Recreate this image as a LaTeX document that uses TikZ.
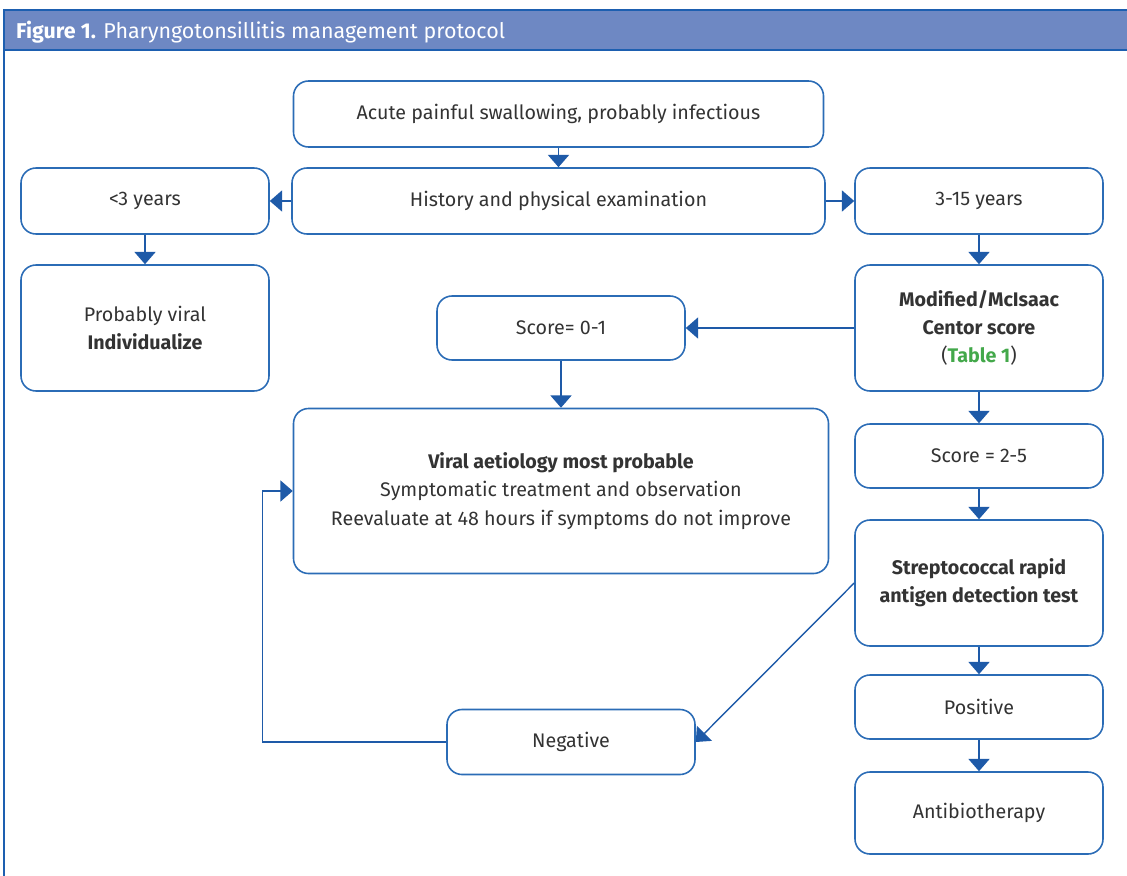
\documentclass[tikz,border=0pt]{standalone}
\usepackage{fontspec}
\setmainfont{Fira Sans}
\usetikzlibrary{positioning,arrows.meta}
\definecolor{boxblue}{HTML}{2B6CB6}
\definecolor{arrowblue}{HTML}{1E5AA8}
\definecolor{titlefill}{HTML}{6E88C3}
\definecolor{titleline}{HTML}{1D5FB0}
\definecolor{textgray}{HTML}{333333}
\definecolor{tablegreen}{HTML}{43A84A}

\begin{document}
\begin{tikzpicture}[node distance=2.54cm, on grid,
    box/.style={draw=boxblue, line width=0.9pt, rounded corners=0.3cm,
      minimum width=4.96cm, minimum height=1.32cm, align=center,
      text=textgray, font=\fontsize{11.2}{16}\selectfont},
    tall/.style={box, minimum height=2.52cm},
    flow/.style={-{Triangle[width=12pt,length=7pt]}, color=arrowblue, line width=0.8pt}]
    \useasboundingbox (0,0) rectangle (22.54,-17.52);
    % frame and title bar
    \fill[titlefill] (0.08,-0.2) rectangle (22.6,-1.0);
    \draw[titleline, line width=1pt] (22.6,-0.2) -- (0.08,-0.2) -- (0.08,-17.6);
    \draw[titleline, line width=1pt] (0.08,-1.0) -- (22.6,-1.0);
    \node[anchor=west, text=white, font=\fontsize{12.2}{15}\selectfont] (title) at (0.2,-0.64)
        {\textbf{Figure 1.} Pharyngotonsillitis management protocol};

    \node[box, minimum width=10.6cm] (acute) at (11.17,-2.28) {Acute painful swallowing, probably infectious};
    \node[box, minimum width=10.66cm, below=1.74cm of acute] (hist) {History and physical examination};
    \node[box, left=8.27cm of hist] (young) {<3 years};
    \node[box, right=8.41cm of hist] (child) {3-15 years};
    \node[tall, below=of young] (viral) {Probably viral\\\textbf{Individualize}};
    \node[tall, below=of child] (centor) {\textbf{Modified/McIsaac}\\\textbf{Centor score}\\(\textcolor{tablegreen}{\textbf{Table 1}})};
    \node[box, minimum height=1.28cm, left=8.36cm of centor] (low) {Score= 0-1};
    \node[box, minimum width=10.7cm, minimum height=3.3cm, below=3.26cm of low] (aetio)
        {\textbf{Viral aetiology most probable}\\Symptomatic treatment and observation\\Reevaluate at 48 hours if symptoms do not improve};
    \node[box, minimum height=1.28cm, below=2.56cm of centor] (high) {Score = 2-5};
    \node[tall, below=of high] (strep) {\textbf{Streptococcal rapid}\\\textbf{antigen detection test}};
    \node[box, minimum height=1.28cm, below=2.48cm of strep] (pos) {Positive};
    \node[box, minimum height=1.64cm, below=2.12cm of pos] (abx) {Antibiotherapy};
    \node[box, minimum height=1.3cm, below left=0.7cm and 8.16cm of pos] (neg) {Negative};

    \path[flow]
    (acute) edge (hist)
    (hist) edge (young)
           edge (child)
    (young) edge (viral)
    (child) edge (centor)
    (centor) edge (low)
             edge (high)
    (low) edge (aetio)
    (high) edge (strep)
    (strep) edge (pos)
    (strep.west) edge (neg.east)
    (pos) edge (abx);
    \draw[flow] (neg.west) -| ([xshift=-0.6cm]aetio.west) -- (aetio.west);
\end{tikzpicture}
\end{document}
